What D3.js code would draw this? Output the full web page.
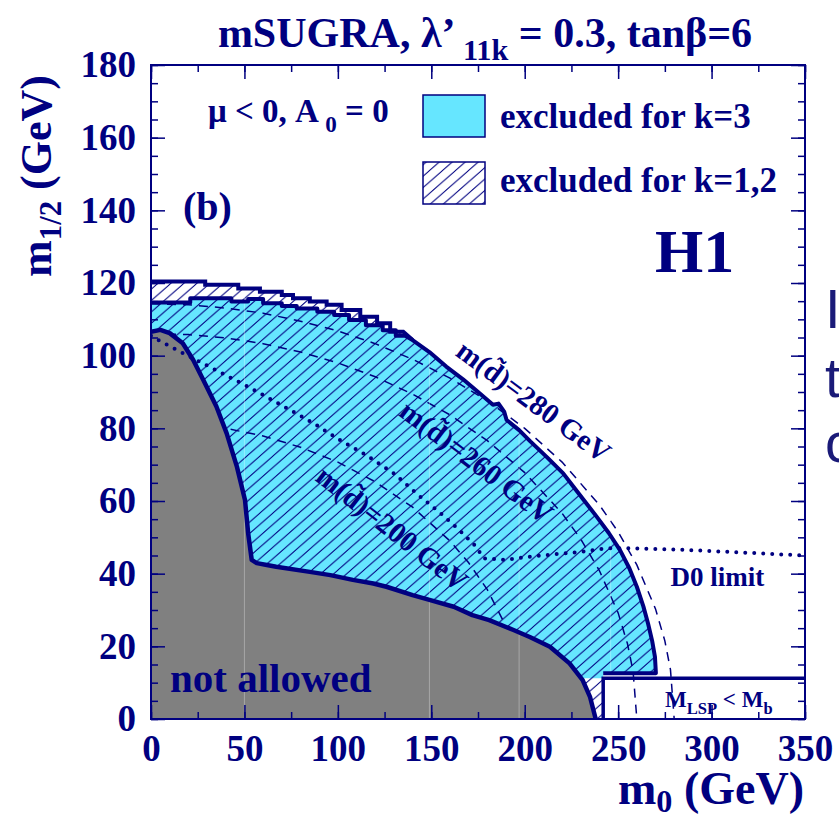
<!DOCTYPE html>
<html>
<head>
<meta charset="utf-8">
<script src="https://cdn.jsdelivr.net/npm/d3@7/dist/d3.min.js"></script>
<style>
body { margin: 0; background: #fff; }
svg text { font-family: "Liberation Serif", "Times New Roman", serif; font-weight: bold; fill: #000080; }
</style>
</head>
<body>
<svg id="chart"></svg>
<script>
// values, pairs are [m0, m1/2] in GeV
var hatch_top = [[0,120.4],[29,120.4],[29,119.5],[46.7,119.5],[46.7,118.5],[58.3,118.5],[58.3,117.6],[70,117.6],
  [70,116.7],[76,116.7],[76,115.8],[85,115.8],[85,114.9],[94,114.9],[94,114],[102,114],[102,112.6],[112,112.6],
  [112,110.7],[121,110.7],[121,108.9],[128,108.9],[128,106.6],[135,106.6],[140,104.3]];
var k3_top = [[0,114.6],[21,114.6],[21,115.8],[43,115.8],[43,114.9],[52,114.9],[52,115.6],[60,115.6],[60,114.4],
  [70,114.4],[70,113.7],[78,113.7],[78,113],[89,113],[89,112.1],[98,112.1],[98,111.2],[106,111.2],[106,109.8],
  [115,109.8],[115,108.4],[124,108.4],[124,107],[131,107],[131,105.5],[136,105.5],[140,104.3]];
var right_edge = [[140,104.3],[149,101],[158,97],[167,93.5],[176,89.6],[183,86.5],[186,86.8],[189,84.6],[190.3,82.3],[197,79.5],
  [203,76.4],[212,72],[220.6,67.6],[226,64],[232,60],[238.5,55.7],[245,51.2],[251,46.5],[256,41.5],[260,36.4],
  [263.5,31],[266,26.3],[268.2,21.5],[269.7,17.1],[270.2,12.6]];
var not_allowed = [[0,106.6],[5,107.1],[10,106.2],[17,103.4],[22.6,98.8],[28,93.3],[35,86],[40.5,78.6],[46,69.4],
  [50.3,60.3],[52,51.1],[53.9,43.8],[56.6,42.9],[62,42.4],[67,41.9],[85,40.5],[96,39.6],[108,38.3],[119,37.3],
  [126,36.4],[140,34.1],[149,32.8],[162,30.9],[172,28.6],[181,27.2],[194,24.5],[203,22.5],[213.5,19.9],
  [224,15.3],[231,10.7],[235,6],[238,0]];
var d0_limit = [[0,105.5],[2,104.8],[15.5,101.1],[33,96.5],[51,91.7],[68,86.9],[87,81.4],[101,76.8],[115,72.7],
  [130,67.6],[142,62.1],[155,56.6],[165,52],[174,47.4],[178,44.2],[190,43.8],[203,44.7],[230,46],[244,47],
  [253,47],[288,46.5],[350,45]];
var sq280 = [[0,114.3],[20,114],[40,113.1],[60,111.7],[80,109.5],[100,106.8],[120,103.3],[140,99],[160,93.8],
  [180,87.6],[200,80],[220,70.7],[240,58.9],[250,51.5],[260,42.4],[270,30.3],[275,21.5],[278,13.6],[280,0]];
var sq260 = [[0,106.1],[20,105.8],[40,104.9],[60,103.3],[80,101],[100,98],[120,94.2],[140,89.4],[160,83.7],
  [180,76.6],[200,67.8],[220,56.6],[230,49.5],[240,40.8],[250,29.2],[255,20.7],[258,13.1],[260,0]];
var sq200 = [[0,81.6],[20,81.2],[40,80],[60,77.9],[80,74.8],[100,70.7],[120,65.3],[140,58.3],[160,49],
  [170,43],[180,35.6],[190,25.5],[195,18.1],[200,0]];
var lsp_box = [242, 11.2];
var k3_floor = 12.6;
var x_labels = [0,50,100,150,200,250,300,350];
var x_minor = [0,25,50,75,100,125,150,175,200,225,250,275,300,325,350];
var y_labels = [0,20,40,60,80,100,120,140,160,180];
var y_minor = [0,5,10,15,20,25,30,35,40,45,50,55,60,65,70,75,80,85,90,95,100,105,110,115,120,125,130,135,140,145,150,155,160,165,170,175,180];
var seams = [50,149,197,246];

var navy = '#000080', cyan = '#66e6ff', grey = '#808080';
var W = 839, H = 821;

var svg = d3.select('#chart').attr('width', W).attr('height', H);
var x = d3.scaleLinear().domain([0,350]).range([151,805]);
var y = d3.scaleLinear().domain([0,180]).range([719,65]);
var line = d3.line().x(function(d){ return x(d[0]); }).y(function(d){ return y(d[1]); });

// hatch pattern
var hw = 13, hh = 11.4;
var pat = svg.append('defs').append('pattern')
  .attr('id', 'hatch').attr('patternUnits', 'userSpaceOnUse')
  .attr('width', hw).attr('height', hh);
pat.append('path')
  .attr('d', 'M-1,' + (hh + hh/hw) + 'L' + (hw + 1) + ',' + (-hh/hw) +
             'M-1,' + (hh/hw) + 'L1,' + (-hh/hw) +
             'M' + (hw - 1) + ',' + (hh + hh/hw) + 'L' + (hw + 1) + ',' + (hh - hh/hw))
  .attr('stroke', navy).attr('stroke-width', 1).attr('fill', 'none');

var plot = svg.append('g');
plot.append('clipPath').attr('id', 'frame').append('rect')
  .attr('x', x(0)).attr('y', y(180)).attr('width', x(350) - x(0)).attr('height', y(0) - y(180));
plot.attr('clip-path', 'url(#frame)');

// k=3 excluded (cyan)
var k3_poly = k3_top.concat(right_edge, [[lsp_box[0], k3_floor],[lsp_box[0], lsp_box[1]],[0, lsp_box[1]]]);
plot.append('path').attr('d', line(k3_poly) + 'Z').attr('fill', cyan);

// k=1,2 excluded (hatched)
var hatch_poly = hatch_top.concat(right_edge, [[lsp_box[0], k3_floor],[lsp_box[0], 0],[0, 0]]);
plot.append('path').attr('d', line(hatch_poly) + 'Z').attr('fill', 'url(#hatch)');

// squark mass contours
[sq280, sq260, sq200].forEach(function(c) {
  plot.append('path').attr('d', line(c)).attr('fill', 'none')
    .attr('stroke', navy).attr('stroke-width', 1.5).attr('stroke-dasharray', '9,7');
});

// not allowed region
plot.append('path').attr('d', line(not_allowed.concat([[0,0]])) + 'Z').attr('fill', grey);

// faint scan seams
plot.selectAll('line.seam').data(seams).enter().append('line')
  .attr('class', 'seam')
  .attr('x1', function(d){ return x(d); }).attr('x2', function(d){ return x(d); })
  .attr('y1', y(0)).attr('y2', y(125))
  .attr('stroke', '#fff').attr('stroke-opacity', 0.3).attr('stroke-width', 1);

// boundaries
plot.append('path').attr('d', line(not_allowed)).attr('fill', 'none')
  .attr('stroke', navy).attr('stroke-width', 4.5).attr('stroke-linejoin', 'round');
plot.append('path').attr('d', line(hatch_top)).attr('fill', 'none')
  .attr('stroke', navy).attr('stroke-width', 4);
plot.append('path').attr('d', line(k3_top.concat(right_edge, [[lsp_box[0], k3_floor]]))).attr('fill', 'none')
  .attr('stroke', navy).attr('stroke-width', 4).attr('stroke-linejoin', 'round');

// M_LSP < M_b box
plot.append('path')
  .attr('d', line([[lsp_box[0], 0],[lsp_box[0], lsp_box[1]],[350, lsp_box[1]]]))
  .attr('fill', 'none').attr('stroke', navy).attr('stroke-width', 3.5);

// D0 limit (dotted)
plot.append('path').attr('d', line(d0_limit)).attr('fill', 'none')
  .attr('stroke', navy).attr('stroke-width', 4).attr('stroke-linecap', 'round')
  .attr('stroke-dasharray', '0,9');

// frame and ticks
svg.append('rect')
  .attr('x', x(0)).attr('y', y(180)).attr('width', x(350) - x(0)).attr('height', y(0) - y(180))
  .attr('fill', 'none').attr('stroke', navy).attr('stroke-width', 2);

function ticks(axis, vals, size, pad, fmt) {
  return axis.tickValues(vals).tickSizeInner(-size).tickSizeOuter(0).tickPadding(pad).tickFormat(fmt);
}
var axes = [
  [d3.axisBottom(x), x_minor, 7, 'translate(0,' + y(0) + ')'],
  [d3.axisTop(x), x_minor, 7, 'translate(0,' + y(180) + ')'],
  [d3.axisLeft(y), y_minor, 7, 'translate(' + x(0) + ',0)'],
  [d3.axisRight(y), y_minor, 7, 'translate(' + x(350) + ',0)'],
  [d3.axisTop(x), x_labels, 14, 'translate(0,' + y(180) + ')'],
  [d3.axisRight(y), y_labels, 14, 'translate(' + x(350) + ',0)']
];
axes.forEach(function(a) {
  var g = svg.append('g').attr('transform', a[3]).call(ticks(a[0], a[1], a[2], 0, ''));
  g.select('.domain').remove();
  g.selectAll('line').attr('stroke', navy).attr('stroke-width', 1.5);
});

var xa = svg.append('g').attr('transform', 'translate(0,' + y(0) + ')')
  .call(ticks(d3.axisBottom(x), x_labels, 14, 16, d3.format('d')));
var ya = svg.append('g').attr('transform', 'translate(' + x(0) + ',0)')
  .call(ticks(d3.axisLeft(y), y_labels, 14, 15, d3.format('d')));
[xa, ya].forEach(function(g) {
  g.select('.domain').remove();
  g.selectAll('line').attr('stroke', navy).attr('stroke-width', 1.5);
  g.selectAll('text').attr('font-size', 37).attr('font-family', null).attr('fill', navy);
});

// titles and annotations
function sub_text(px, py, size, parts, anchor) {
  var t = svg.append('text').attr('x', px).attr('y', py).attr('font-size', size)
    .attr('text-anchor', anchor || 'start');
  parts.forEach(function(p) {
    t.append('tspan').text(p[0]).attr('font-size', p[1] ? size * p[1] : null).attr('dy', p[2] || 0);
  });
  return t;
}

sub_text(485, 47, 42, [['mSUGRA, \u03bb\u2019 '], ['11k', 0.72, 13], [' = 0.3, tan\u03b2=6', null, -13]], 'middle');
sub_text(804, 804, 46, [['m'], ['0', 0.7, 8], [' (GeV)', null, -8]], 'end');
sub_text(0, 0, 44, [['m'], ['1/2', 0.7, 10], [' (GeV)', null, -10]], 'middle')
  .attr('transform', 'translate(51,176) rotate(-90)');

sub_text(208, 122, 33, [['\u03bc < 0, A '], ['0', 0.7, 10], [' = 0', null, -10]]);
sub_text(183, 220, 40, [['(b)']]);
sub_text(655, 272, 62, [['H1']]);
sub_text(170, 692, 41, [['not allowed']]);
sub_text(x(278), y(36.6), 27, [['D0 limit']]);
sub_text(665, 707, 23, [['M'], ['LSP', 0.72, 7], [' < M', null, -7], ['b', 0.72, 7]]);

// legend
svg.append('rect').attr('x', 423).attr('y', 95).attr('width', 62).attr('height', 42)
  .attr('fill', cyan).attr('stroke', navy).attr('stroke-width', 1.5);
svg.append('rect').attr('x', 423).attr('y', 162).attr('width', 62).attr('height', 42)
  .attr('fill', 'url(#hatch)').attr('stroke', navy).attr('stroke-width', 1.5);
sub_text(500, 128, 35, [['excluded for k=3']]);
sub_text(500, 192, 35, [['excluded for k=1,2']]);

// contour labels
var contour_labels = [
  ['m(d\u0303)=280 GeV', 204.9, 87.5, 36.5],
  ['m(d\u0303)=260 GeV', 174.3, 70.8, 37],
  ['m(d\u0303)=200 GeV', 129.2, 52.5, 38]
];
contour_labels.forEach(function(c) {
  svg.append('text').text(c[0])
    .attr('font-size', 29).attr('text-anchor', 'middle').attr('dy', '0.35em')
    .attr('transform', 'translate(' + x(c[1]) + ',' + y(c[2]) + ') rotate(' + c[3] + ')');
});

// text of the page that bleeds in at the right edge
var side = [['In', 328], ['th', 397], ['co', 462]];
side.forEach(function(s) {
  svg.append('text').text(s[0]).attr('x', 825).attr('y', s[1])
    .style('font-family', '"Liberation Sans", Arial, sans-serif').style('font-weight', 'normal')
    .attr('font-size', 56).style('fill', '#1a1a78');
});
</script>
</body>
</html>
